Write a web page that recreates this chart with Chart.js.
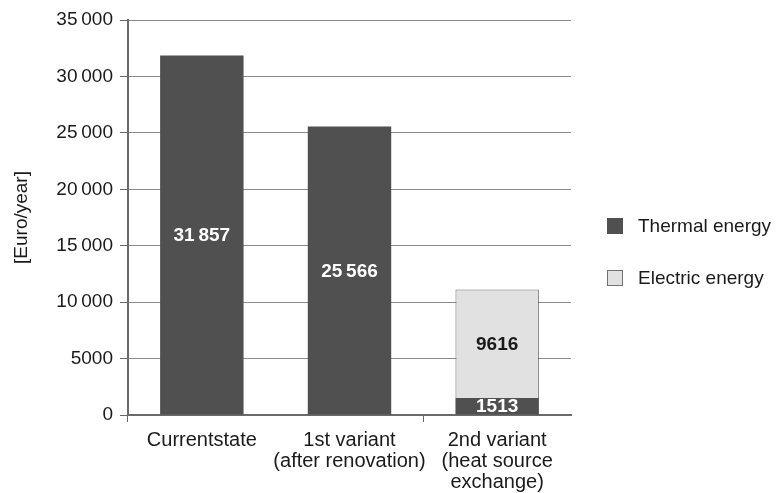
<!DOCTYPE html>
<html>
<head>
<meta charset="utf-8">
<script src="https://cdn.jsdelivr.net/npm/chart.js@4/dist/chart.umd.min.js"></script>
<style>
  html, body { margin: 0; padding: 0; background: #ffffff; }
  #wrap { width: 778px; height: 493px; position: relative; }
</style>
</head>
<body>
<div id="wrap"><canvas id="c" width="778" height="493"></canvas></div>
<script>
// Annual energy costs per variant
const categories = [
  'Currentstate',
  ['1st variant', '(after renovation)'],
  ['2nd variant', '(heat source', 'exchange)']
];
const thermalEnergy = [31857, 25566, 1513];
const electricEnergy = [null, null, 9616];
const seriesNames = ['Thermal energy', 'Electric energy'];
const yTicks = [0, 5000, 10000, 15000, 20000, 25000, 30000, 35000];

const FONT = '"Liberation Sans", Arial, Helvetica, sans-serif';
const THERMAL = '#505050';
const ELECTRIC = '#e1e1e1';
const TEXT = '#1a1a1a';

function groupThousands(v) {
  const s = String(Math.round(v));
  return v >= 10000 ? s.replace(/\B(?=(\d{3})+(?!\d))/g, '\u2009') : s;
}

// Value labels in the middle of each bar segment
const barLabels = {
  id: 'barLabels',
  afterDatasetsDraw(chart) {
    const ctx = chart.ctx;
    ctx.save();
    ctx.font = 'bold 19px ' + FONT;
    ctx.textAlign = 'center';
    ctx.textBaseline = 'middle';
    chart.data.datasets.forEach((ds, di) => {
      const meta = chart.getDatasetMeta(di);
      meta.data.forEach((el, i) => {
        const v = ds.data[i];
        if (v == null) return;
        const y = (el.y + el.base) / 2;
        ctx.fillStyle = di === 0 ? '#ffffff' : TEXT;
        ctx.fillText(groupThousands(v), el.x, y + 1);
      });
    });
    ctx.restore();
  }
};

// Legend drawn at the right of the plot
const sideLegend = {
  id: 'sideLegend',
  afterDraw(chart) {
    const ctx = chart.ctx;
    ctx.save();
    ctx.font = '19px ' + FONT;
    ctx.textBaseline = 'middle';
    ctx.textAlign = 'left';
    const items = [
      { name: seriesNames[0], fill: THERMAL, stroke: THERMAL, y: 226 },
      { name: seriesNames[1], fill: ELECTRIC, stroke: '#707070', y: 278 }
    ];
    items.forEach(it => {
      ctx.fillStyle = it.fill;
      ctx.fillRect(607, it.y - 8, 16, 16);
      ctx.strokeStyle = it.stroke;
      ctx.lineWidth = 1;
      ctx.strokeRect(607.5, it.y - 7.5, 15, 15);
      ctx.fillStyle = TEXT;
      ctx.fillText(it.name, 638, it.y + 1);
    });
    ctx.restore();
  }
};

new Chart(document.getElementById('c'), {
  type: 'bar',
  data: {
    labels: categories,
    datasets: [
      {
        label: seriesNames[0],
        data: thermalEnergy,
        backgroundColor: THERMAL,
        borderWidth: 0,
        barPercentage: 0.565,
        categoryPercentage: 1.0
      },
      {
        label: seriesNames[1],
        data: electricEnergy,
        backgroundColor: ELECTRIC,
        borderColor: '#6e6e6e',
        borderWidth: 1,
        barPercentage: 0.565,
        categoryPercentage: 1.0
      }
    ]
  },
  options: {
    responsive: false,
    animation: false,
    layout: { padding: { top: 20, right: 207, left: 10, bottom: 0 } },
    plugins: {
      legend: { display: false },
      tooltip: { enabled: false }
    },
    scales: {
      x: {
        stacked: true,
        offset: true,
        grid: {
          display: true,
          drawOnChartArea: false,
          drawTicks: true,
          tickLength: 7,
          offset: true,
          tickColor: c => (c.index === 0 || c.index === 2) ? '#666666' : 'rgba(0,0,0,0)',
          color: '#666666',
          lineWidth: 1
        },
        border: { display: true, color: '#6a6a6a', width: 2 },
        ticks: {
          color: TEXT,
          font: { family: FONT, size: 20, lineHeight: 1.05 },
          padding: 8,
          maxRotation: 0,
          autoSkip: false
        },
        afterFit(scale) { scale.height = 78; }
      },
      y: {
        stacked: true,
        min: 0,
        max: 35000,
        afterBuildTicks(scale) { scale.ticks = yTicks.map(v => ({ value: v })); },
        grid: {
          color: '#8a8a8a',
          lineWidth: 1,
          drawTicks: true,
          tickLength: 8,
          tickColor: '#6a6a6a'
        },
        border: { display: true, color: '#6a6a6a', width: 2 },
        ticks: {
          color: TEXT,
          font: { family: FONT, size: 19 },
          padding: 7,
          callback: v => groupThousands(v)
        },
        title: {
          display: true,
          text: '[Euro/year]',
          color: TEXT,
          font: { family: FONT, size: 19 },
          padding: { top: 0, bottom: 0 }
        },
        afterFit(scale) { scale.width = 118; }
      }
    }
  },
  plugins: [barLabels, sideLegend]
});
</script>
</body>
</html>
